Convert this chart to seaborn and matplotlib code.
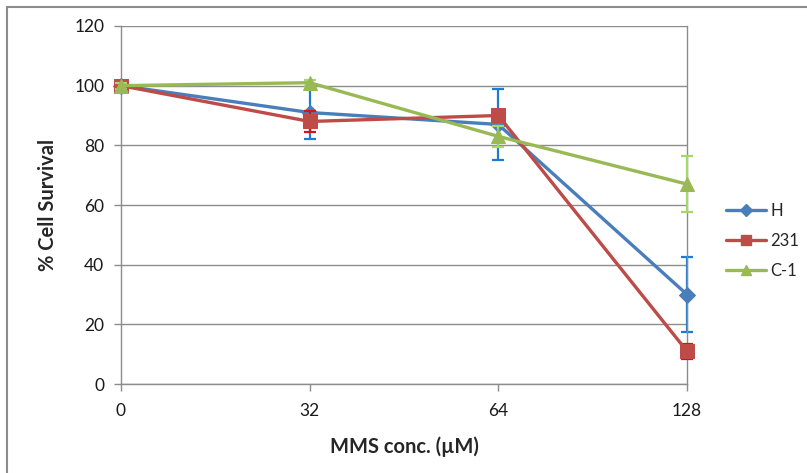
import matplotlib
matplotlib.use("Agg")
import matplotlib.pyplot as plt
import matplotlib.lines as mlines
import seaborn as sns
import pandas as pd
import numpy as np

# Data
concentrations = ["0", "32", "64", "128"]
h_values = [100, 91, 87, 30]
h_err = [0, 9, 12, 12.5]
c231_values = [100, 88, 90, 11]
c231_err = [0, 3.5, 0, 2.5]
c1_values = [100, 101, 83, 67]
c1_err = [1, 1, 3.5, 9.5]
series_names = ["H", "231", "C-1"]

line_colors = {"H": "#4A7EBB", "231": "#BE4B48", "C-1": "#98B954"}
err_colors = {"H": "#1F7BD1", "231": "#D0161B", "C-1": "#A6D86A"}
markers = {"H": "D", "231": "s", "C-1": "^"}
msizes = {"H": 8, "231": 10.5, "C-1": 10}

sns.set_style("white")
plt.rcParams["font.family"] = ["Lato", "DejaVu Sans"]

pos = np.arange(len(concentrations))
frames = []
for name, vals in zip(series_names, [h_values, c231_values, c1_values]):
    frames.append(pd.DataFrame({"pos": pos, "value": vals, "series": name}))
df = pd.concat(frames, ignore_index=True)

fig = plt.figure(figsize=(8.07, 4.73), dpi=100)
ax = fig.add_axes([121 / 807, 1 - 384 / 473, (687 - 121) / 807, (384 - 26) / 473])

errs = {"H": h_err, "231": c231_err, "C-1": c1_err}
for i, name in enumerate(series_names):
    sub = df[df["series"] == name]
    ax.errorbar(sub["pos"], sub["value"], yerr=errs[name], fmt="none",
                ecolor=err_colors[name], elinewidth=1.6, capsize=4, capthick=1.6,
                zorder=2 + i * 2, clip_on=False)
    sns.lineplot(data=sub, x="pos", y="value", ax=ax, color=line_colors[name],
                 linewidth=2.4, marker=markers[name], markersize=msizes[name],
                 markeredgecolor=line_colors[name], errorbar=None,
                 zorder=3 + i * 2, clip_on=False, legend=False)

ax.set_xlim(0, 3)
ax.set_ylim(0, 120)
ax.set_yticks(range(0, 121, 20))
ax.set_xticks(pos)
ax.set_xticklabels(concentrations)
ax.yaxis.grid(True, color="#8C8C8C", linewidth=1)
ax.set_axisbelow(True)
for side in ["left", "bottom", "right"]:
    ax.spines[side].set_visible(True)
    ax.spines[side].set_color("#8C8C8C")
    ax.spines[side].set_linewidth(1)
ax.spines["top"].set_visible(False)
ax.tick_params(axis="both", direction="out", length=5, width=1, color="#8C8C8C",
               labelsize=12.5, labelcolor="#1A1A1A", left=True, bottom=True)
ax.tick_params(axis="y", pad=7)
ax.tick_params(axis="x", pad=9)
ax.set_xlabel("MMS conc. (µM)", fontsize=14.5, fontweight="bold", labelpad=12)
ax.set_ylabel("% Cell Survival", fontsize=14.5, fontweight="bold", labelpad=12)

handles = [mlines.Line2D([], [], color=line_colors[n], marker=markers[n],
                         markersize=msizes[n] * 0.75, linewidth=2.4,
                         markeredgecolor=line_colors[n]) for n in series_names]
fig.legend(handles, series_names, loc="center left",
           bbox_to_anchor=(726 / 807, 1 - 241 / 473), frameon=False,
           fontsize=12, handlelength=2.4, labelspacing=0.85, handletextpad=0.25,
           borderpad=0, borderaxespad=0)

# Chart area border
fig.add_artist(mlines.Line2D([7 / 807, 7 / 807], [0, 1 - 7 / 473],
                             transform=fig.transFigure, color="#8C8C8C", linewidth=1.5))
fig.add_artist(mlines.Line2D([7 / 807, 1], [1 - 7 / 473, 1 - 7 / 473],
                             transform=fig.transFigure, color="#8C8C8C", linewidth=1.5))

fig.savefig("out.png", dpi=100, facecolor="white")
